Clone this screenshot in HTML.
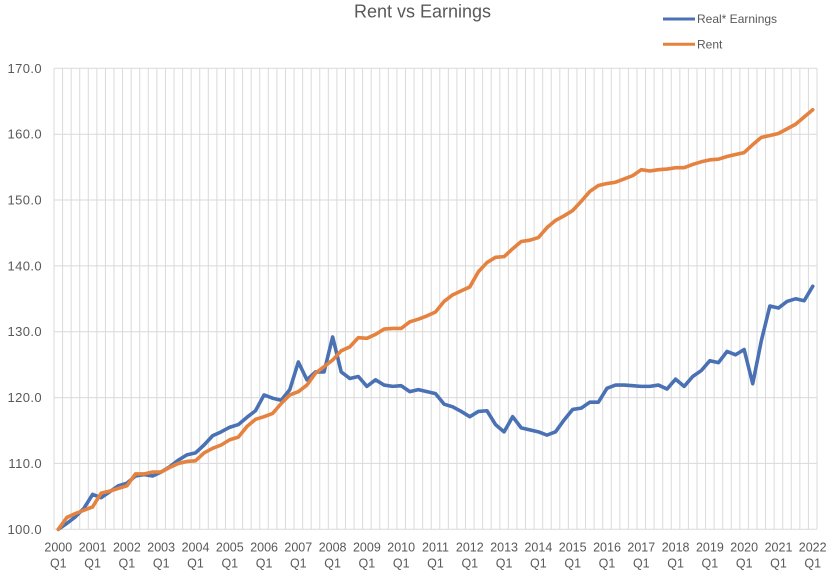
<!DOCTYPE html>
<html>
<head>
<meta charset="utf-8">
<style>
  html, body { margin:0; padding:0; background:#ffffff; }
  body { width:835px; height:582px; overflow:hidden; }
  svg { display:block; }
  text { font-family: "Liberation Sans", "DejaVu Sans", sans-serif; fill:#595959; }
</style>
</head>
<body>
<svg width="835" height="582" viewBox="0 0 835 582" xmlns="http://www.w3.org/2000/svg">
  <rect x="0" y="0" width="835" height="582" fill="#ffffff"/>

  <!-- Title -->
  <text x="422.5" y="17.5" font-size="18" text-anchor="middle">Rent vs Earnings</text>

  <!-- Legend -->
  <line x1="663" y1="19" x2="695" y2="19" stroke="#4a71b3" stroke-width="3"/>
  <text x="697" y="23" font-size="12">Real* Earnings</text>
  <line x1="663" y1="44.3" x2="695" y2="44.3" stroke="#e5823f" stroke-width="3"/>
  <text x="697" y="48.5" font-size="12">Rent</text>

  <!-- Vertical gridlines -->
  <g id="vgrid" stroke="#dadada" stroke-width="1"></g>
  <g stroke="#dadada" stroke-width="1">
    <path d="
M54,68.3V529.3 M62.57,68.3V529.3 M71.15,68.3V529.3 M79.72,68.3V529.3 M88.29,68.3V529.3 M96.87,68.3V529.3 M105.44,68.3V529.3 M114.01,68.3V529.3 M122.58,68.3V529.3 M131.16,68.3V529.3
M139.73,68.3V529.3 M148.3,68.3V529.3 M156.88,68.3V529.3 M165.45,68.3V529.3 M174.02,68.3V529.3 M182.6,68.3V529.3 M191.17,68.3V529.3 M199.74,68.3V529.3 M208.31,68.3V529.3 M216.89,68.3V529.3
M225.46,68.3V529.3 M234.03,68.3V529.3 M242.61,68.3V529.3 M251.18,68.3V529.3 M259.75,68.3V529.3 M268.33,68.3V529.3 M276.9,68.3V529.3 M285.47,68.3V529.3 M294.04,68.3V529.3 M302.62,68.3V529.3
M311.19,68.3V529.3 M319.76,68.3V529.3 M328.34,68.3V529.3 M336.91,68.3V529.3 M345.48,68.3V529.3 M354.06,68.3V529.3 M362.63,68.3V529.3 M371.2,68.3V529.3 M379.77,68.3V529.3 M388.35,68.3V529.3
M396.92,68.3V529.3 M405.49,68.3V529.3 M414.07,68.3V529.3 M422.64,68.3V529.3 M431.21,68.3V529.3 M439.79,68.3V529.3 M448.36,68.3V529.3 M456.93,68.3V529.3 M465.5,68.3V529.3 M474.08,68.3V529.3
M482.65,68.3V529.3 M491.22,68.3V529.3 M499.8,68.3V529.3 M508.37,68.3V529.3 M516.94,68.3V529.3 M525.52,68.3V529.3 M534.09,68.3V529.3 M542.66,68.3V529.3 M551.23,68.3V529.3 M559.81,68.3V529.3
M568.38,68.3V529.3 M576.95,68.3V529.3 M585.53,68.3V529.3 M594.1,68.3V529.3 M602.67,68.3V529.3 M611.25,68.3V529.3 M619.82,68.3V529.3 M628.39,68.3V529.3 M636.96,68.3V529.3 M645.54,68.3V529.3
M654.11,68.3V529.3 M662.68,68.3V529.3 M671.26,68.3V529.3 M679.83,68.3V529.3 M688.4,68.3V529.3 M696.98,68.3V529.3 M705.55,68.3V529.3 M714.12,68.3V529.3 M722.69,68.3V529.3 M731.27,68.3V529.3
M739.84,68.3V529.3 M748.41,68.3V529.3 M756.99,68.3V529.3 M765.56,68.3V529.3 M774.13,68.3V529.3 M782.71,68.3V529.3 M791.28,68.3V529.3 M799.85,68.3V529.3 M808.42,68.3V529.3 M817,68.3V529.3"/>
  </g>

  <!-- Horizontal gridlines -->
  <g stroke="#d9d9d9" stroke-width="1">
    <line x1="54" y1="68.3" x2="817" y2="68.3"/>
    <line x1="54" y1="134.2" x2="817" y2="134.2"/>
    <line x1="54" y1="200" x2="817" y2="200"/>
    <line x1="54" y1="265.9" x2="817" y2="265.9"/>
    <line x1="54" y1="331.7" x2="817" y2="331.7"/>
    <line x1="54" y1="397.6" x2="817" y2="397.6"/>
    <line x1="54" y1="463.4" x2="817" y2="463.4"/>
    <line x1="54" y1="529.3" x2="817" y2="529.3"/>
  </g>

  <!-- Y axis labels -->
  <g font-size="13" text-anchor="end" letter-spacing="0.4">
    <text x="42" y="72.8">170.0</text>
    <text x="42" y="138.7">160.0</text>
    <text x="42" y="204.5">150.0</text>
    <text x="42" y="270.4">140.0</text>
    <text x="42" y="336.2">130.0</text>
    <text x="42" y="402.1">120.0</text>
    <text x="42" y="467.9">110.0</text>
    <text x="42" y="533.8">100.0</text>
  </g>

  <!-- X axis labels -->
  <g font-size="12.5" text-anchor="middle">
    <text x="58.3" y="551.5">2000</text><text x="58.3" y="567.5">Q1</text>
    <text x="92.6" y="551.5">2001</text><text x="92.6" y="567.5">Q1</text>
    <text x="126.9" y="551.5">2002</text><text x="126.9" y="567.5">Q1</text>
    <text x="161.2" y="551.5">2003</text><text x="161.2" y="567.5">Q1</text>
    <text x="195.5" y="551.5">2004</text><text x="195.5" y="567.5">Q1</text>
    <text x="229.8" y="551.5">2005</text><text x="229.8" y="567.5">Q1</text>
    <text x="264.1" y="551.5">2006</text><text x="264.1" y="567.5">Q1</text>
    <text x="298.3" y="551.5">2007</text><text x="298.3" y="567.5">Q1</text>
    <text x="332.6" y="551.5">2008</text><text x="332.6" y="567.5">Q1</text>
    <text x="366.9" y="551.5">2009</text><text x="366.9" y="567.5">Q1</text>
    <text x="401.2" y="551.5">2010</text><text x="401.2" y="567.5">Q1</text>
    <text x="435.5" y="551.5">2011</text><text x="435.5" y="567.5">Q1</text>
    <text x="469.8" y="551.5">2012</text><text x="469.8" y="567.5">Q1</text>
    <text x="504.1" y="551.5">2013</text><text x="504.1" y="567.5">Q1</text>
    <text x="538.4" y="551.5">2014</text><text x="538.4" y="567.5">Q1</text>
    <text x="572.7" y="551.5">2015</text><text x="572.7" y="567.5">Q1</text>
    <text x="607.0" y="551.5">2016</text><text x="607.0" y="567.5">Q1</text>
    <text x="641.3" y="551.5">2017</text><text x="641.3" y="567.5">Q1</text>
    <text x="675.6" y="551.5">2018</text><text x="675.6" y="567.5">Q1</text>
    <text x="709.9" y="551.5">2019</text><text x="709.9" y="567.5">Q1</text>
    <text x="744.2" y="551.5">2020</text><text x="744.2" y="567.5">Q1</text>
    <text x="778.5" y="551.5">2021</text><text x="778.5" y="567.5">Q1</text>
    <text x="812.7" y="551.5">2022</text><text x="812.7" y="567.5">Q1</text>
  </g>

  <!-- Data series (data coords: q = quarter index, v-100) -->
  <g transform="translate(58.3,529.3) scale(8.573,-6.586)">
    <polyline fill="none" stroke="#4a71b3" stroke-width="3.6" stroke-linejoin="round" stroke-linecap="round" vector-effect="non-scaling-stroke"
      points="0,0 1,0.9 2,1.9 3,3.2 4,5.3 5,4.8 6,5.7 7,6.6 8,7.0 9,8.1 10,8.3 11,8.1 12,8.7 13,9.5 14,10.5 15,11.3 16,11.6 17,12.8 18,14.2 19,14.8 20,15.5 21,15.9 22,17.0 23,18.0 24,20.4 25,19.9 26,19.6 27,21.2 28,25.4 29,22.7 30,23.9 31,23.9 32,29.2 33,23.9 34,22.9 35,23.2 36,21.7 37,22.7 38,21.9 39,21.7 40,21.8 41,20.9 42,21.2 43,20.9 44,20.6 45,19.0 46,18.6 47,17.9 48,17.1 49,17.9 50,18.0 51,15.9 52,14.8 53,17.1 54,15.4 55,15.1 56,14.8 57,14.3 58,14.8 59,16.6 60,18.2 61,18.4 62,19.3 63,19.3 64,21.4 65,21.9 66,21.9 67,21.8 68,21.7 69,21.7 70,21.9 71,21.3 72,22.8 73,21.7 74,23.2 75,24.1 76,25.6 77,25.3 78,27.0 79,26.5 80,27.3 81,22.1 82,28.6 83,33.9 84,33.6 85,34.6 86,35.0 87,34.7 88,36.9"/>
    <polyline fill="none" stroke="#e5823f" stroke-width="3.6" stroke-linejoin="round" stroke-linecap="round" vector-effect="non-scaling-stroke"
      points="0,0 1,1.8 2,2.4 3,2.9 4,3.4 5,5.5 6,5.8 7,6.2 8,6.6 9,8.4 10,8.4 11,8.7 12,8.7 13,9.4 14,10.0 15,10.3 16,10.4 17,11.6 18,12.3 19,12.8 20,13.6 21,14.0 22,15.6 23,16.7 24,17.1 25,17.6 26,19.1 27,20.4 28,20.9 29,21.9 30,23.7 31,24.7 32,25.7 33,27.1 34,27.7 35,29.1 36,29.0 37,29.6 38,30.4 39,30.5 40,30.5 41,31.5 42,31.9 43,32.4 44,33.0 45,34.6 46,35.6 47,36.2 48,36.8 49,39.1 50,40.5 51,41.3 52,41.4 53,42.6 54,43.7 55,43.9 56,44.3 57,45.8 58,46.9 59,47.6 60,48.4 61,49.8 62,51.3 63,52.2 64,52.5 65,52.7 66,53.2 67,53.7 68,54.6 69,54.4 70,54.6 71,54.7 72,54.9 73,54.9 74,55.4 75,55.8 76,56.1 77,56.2 78,56.6 79,56.9 80,57.2 81,58.4 82,59.5 83,59.8 84,60.1 85,60.8 86,61.5 87,62.6 88,63.7"/>
  </g>
</svg>
</body>
</html>
